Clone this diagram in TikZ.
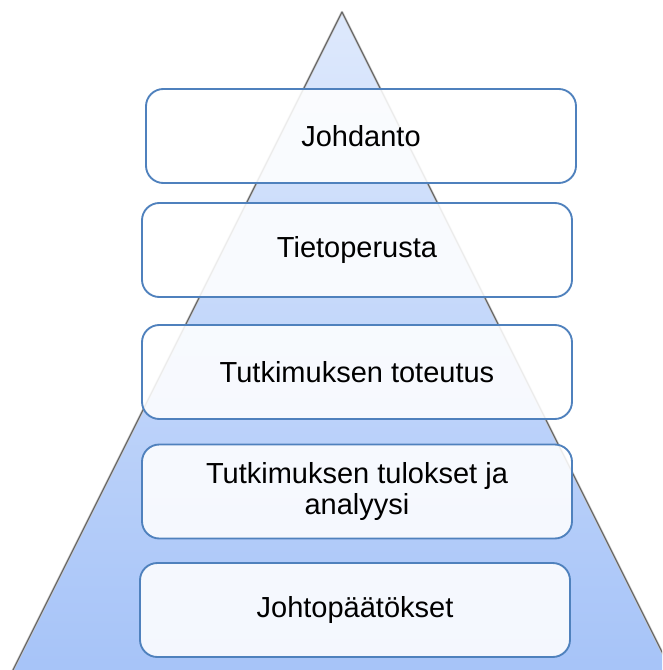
\documentclass[tikz,border=0pt]{standalone}
\usepackage{fontspec}
\setmainfont{Liberation Sans}
\definecolor{pyrtop}{RGB}{222,233,252}
\definecolor{pyrbot}{RGB}{164,194,248}
\definecolor{boxline}{RGB}{79,129,189}
\begin{document}
\begin{tikzpicture}[x=0.75pt,y=-0.75pt,
  layerbox/.style={draw=boxline, line width=1.4pt, rounded corners=13pt,
    fill=white, fill opacity=0.88, text opacity=1, text=black,
    minimum width=322.5pt, minimum height=70.5pt, inner sep=0pt, outer sep=0pt,
    align=center, font=\fontsize{21.75}{23.25}\selectfont},
  edge/.style={draw=black!62, line width=0.8pt},
  edgeshadow/.style={draw=black!22, line width=1.8pt}]
\useasboundingbox (0,0) rectangle (662,670);
\begin{scope}
  \clip (0,0) rectangle (662,670);
  \coordinate (apex) at (342,12);
  \coordinate (bl) at (-2,700);
  \coordinate (br) at (686,700);
  \shade[top color=pyrtop, bottom color=pyrbot] (apex) -- (br) -- (bl) -- cycle;
  \draw[edgeshadow, shift={(-1.3,0.6)}] (bl) -- (apex);
  \draw[edgeshadow, shift={(1.3,0.6)}] (apex) -- (br);
  \draw[edge] (bl) -- (apex) -- (br);
\end{scope}
\node[layerbox] (b1) at (361,136) {Johdanto};
\node[layerbox] (b2) at (357,250) {Tietoperusta};
\node[layerbox] (b3) at (357,372) {Tutkimuksen toteutus};
\node[layerbox] (b4) at (357,491.5) {Tutkimuksen tulokset ja\\analyysi};
\node[layerbox] (b5) at (355,610) {Johtopäätökset};
\end{tikzpicture}
\end{document}
